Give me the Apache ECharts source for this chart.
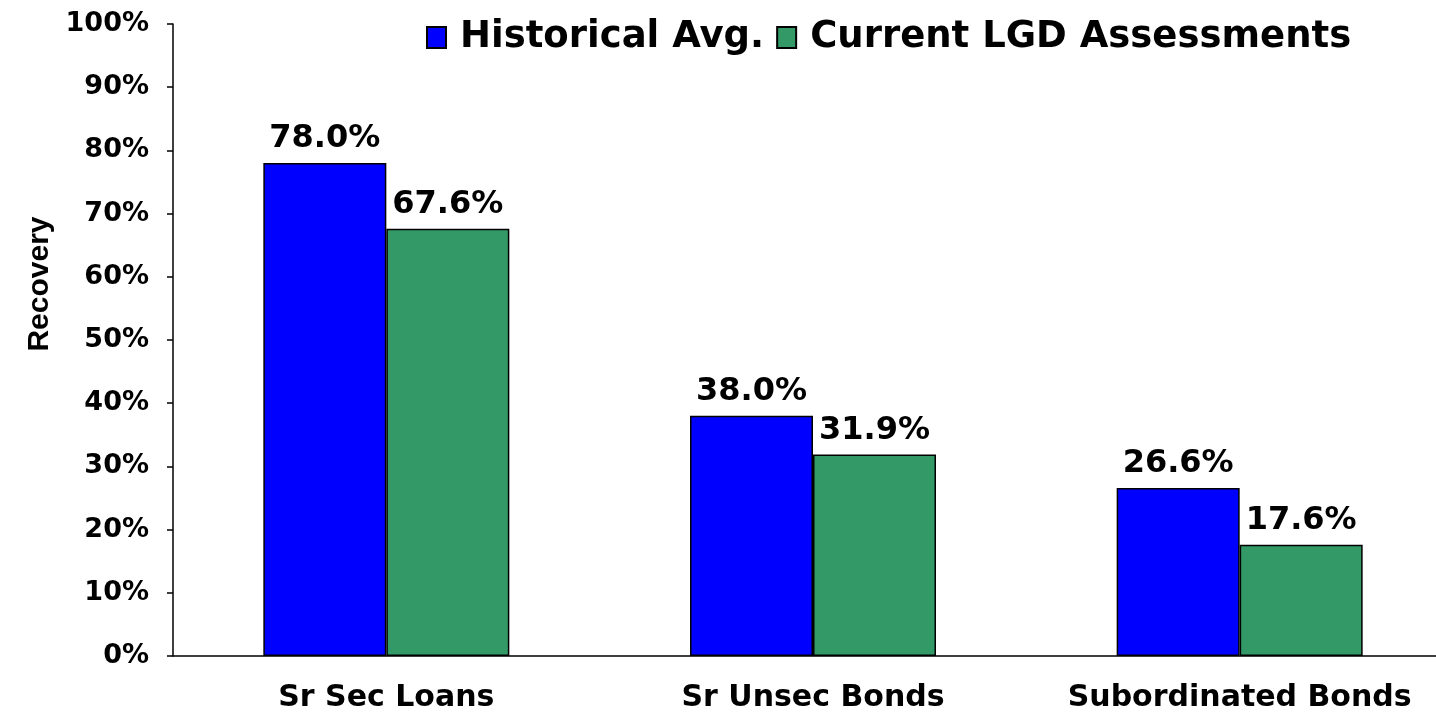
<!DOCTYPE html>
<html>
<head>
<meta charset="utf-8">
<script src="https://cdn.jsdelivr.net/npm/echarts@6/dist/echarts.min.js"></script>
<style>
  html, body { margin: 0; padding: 0; background: #fff; }
  #chart { width: 1436px; height: 713px; }
</style>
</head>
<body>
<div id="chart"></div>
<script>
var categories = ['Sr Sec Loans', 'Sr Unsec Bonds', 'Subordinated Bonds']
var historical = [78.0, 38.0, 26.6]
var current = [67.6, 31.9, 17.6]
var seriesNames = ['Historical Avg.', 'Current LGD Assessments']

var chart = echarts.init(document.getElementById('chart'))

var labelStyle = {
    show: true,
    position: 'top',
    distance: 8,
    color: '#000',
    fontFamily: 'DejaVu Sans',
    fontWeight: 'bold',
    fontSize: 32,
    formatter: function (p) { return p.value.toFixed(1) + '%' }
}

chart.setOption({
    animation: false,
    grid: {
        left: 173,
        top: 24,
        right: -17,
        bottom: 57,
        outerBoundsMode: 'none'
    },
    legend: {
        left: 421,
        top: 14,
        icon: 'rect',
        itemWidth: 19,
        itemHeight: 21,
        itemGap: 12,
        textStyle: {
            fontFamily: 'DejaVu Sans',
            fontWeight: 'bold',
            fontSize: 37,
            color: '#000',
            padding: [0, 0, 0, 9]
        },
        data: seriesNames
    },
    xAxis: {
        type: 'category',
        data: categories,
        axisLine: { lineStyle: { color: '#000', width: 1.5 } },
        axisTick: { length: 9, lineStyle: { color: '#000', width: 1.5 } },
        axisLabel: {
            interval: 0,
            margin: 27,
            color: '#000',
            fontFamily: 'DejaVu Sans',
            fontWeight: 'bold',
            fontSize: 30,
        }
    },
    yAxis: {
        type: 'value',
        min: 0,
        max: 100,
        interval: 10,
        name: 'Recovery',
        nameLocation: 'middle',
        nameGap: 114,
        nameRotate: 90,
        nameTextStyle: {
            color: '#000',
            fontFamily: 'Liberation Sans',
            fontWeight: 'bold',
            fontSize: 30,
            padding: [0, 0, 0, 112]
        },
        splitLine: { show: false },
        axisLine: { show: true, lineStyle: { color: '#000', width: 1.5 } },
        axisTick: { show: true, length: 6, lineStyle: { color: '#000', width: 1.5 } },
        axisLabel: {
            margin: 24,
            color: '#000',
            fontFamily: 'DejaVu Sans',
            fontWeight: 'bold',
            fontSize: 27,
            formatter: '{value}%'
        }
    },
    series: [
        {
            name: seriesNames[0],
            type: 'bar',
            data: historical,
            barWidth: 123,
            barGap: '0%',
            itemStyle: { color: '#0000ff', borderColor: '#000', borderWidth: 1.5 },
            label: labelStyle
        },
        {
            name: seriesNames[1],
            type: 'bar',
            data: current,
            barWidth: 123,
            itemStyle: { color: '#339966', borderColor: '#000', borderWidth: 1.5 },
            label: labelStyle
        }
    ]
})
</script>
</body>
</html>
